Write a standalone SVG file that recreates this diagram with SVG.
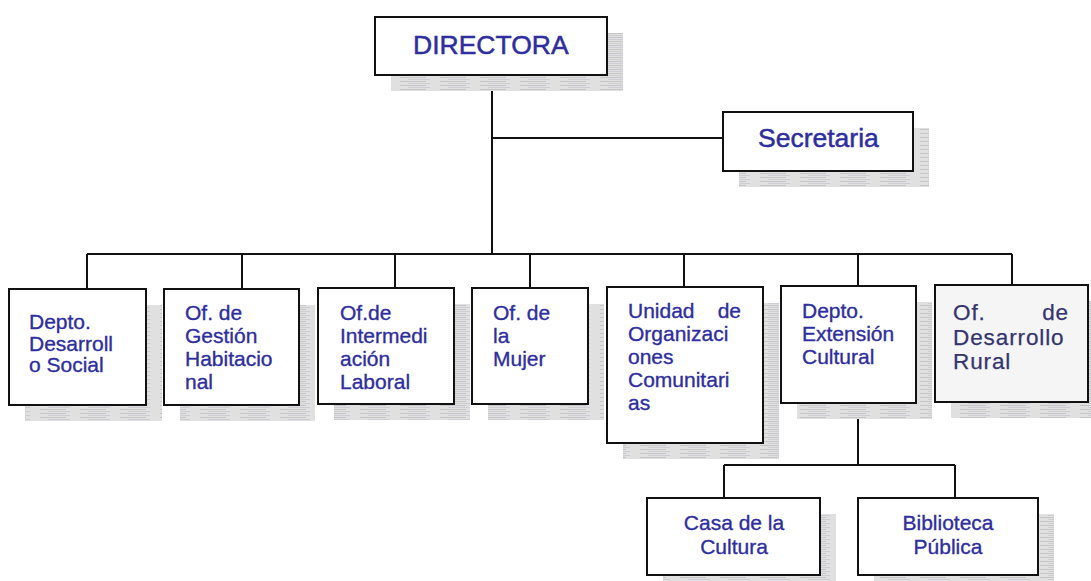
<svg xmlns="http://www.w3.org/2000/svg" width="1091" height="581" viewBox="0 0 1091 581">
<defs>
<pattern id="scan" width="40" height="4" patternUnits="userSpaceOnUse">
<rect width="40" height="4" fill="#e0e0e0"/>
<rect x="0" y="1" width="26" height="1" fill="#c6c6c6"/>
<rect x="8" y="3" width="22" height="1" fill="#cfccd4"/>
</pattern>
</defs>
<style>
.box{fill:#ffffff;stroke:#111111;stroke-width:2}
.shadow{fill:url(#scan)}
.t{font-family:"Liberation Sans",Arial,sans-serif;fill:#2e2e9e;stroke:#2e2e9e;stroke-width:0.35;font-size:21px}
.big{font-size:26.5px;stroke-width:0.5}
.rural{fill:#34346e;stroke:#34346e;stroke-width:0.25;font-size:22.5px;letter-spacing:0.9px}
.c{text-anchor:middle}
.conn{stroke:#111111;stroke-width:2;fill:none}
</style>
<rect width="1091" height="581" fill="#ffffff"/>
<g id="connectors">
<path class="conn" d="M492 75V254M492 138H723"/>
<path class="conn" d="M87 254H1012M87 254V289M242 254V289M395 254V288M530 254V288M684 254V287M858 254V286M1012 254V285"/>
<path class="conn" d="M858 403V465M724 465H955M724 465V498M955 465V498"/>
</g>
<g id="directora">
<rect class="shadow" x="391" y="33" width="232" height="58"/>
<rect class="box" x="375" y="17" width="232" height="58"/>
<text class="t big" x="413" y="54">DIRECTORA</text>
</g>
<g id="secretaria">
<rect class="shadow" x="739" y="128" width="190" height="59"/>
<rect class="box" x="723" y="112" width="190" height="59"/>
<text class="t big" x="758" y="147">Secretaria</text>
</g>
<g id="depto-desarrollo-social">
<rect class="shadow" x="25" y="305" width="137" height="116"/>
<rect class="box" x="9" y="289" width="137" height="116"/>
<text class="t"><tspan x="29" y="329">Depto.</tspan><tspan x="29" y="351">Desarroll</tspan><tspan x="29" y="372">o Social</tspan></text>
</g>
<g id="of-gestion-habitacional">
<rect class="shadow" x="180" y="305" width="135" height="116"/>
<rect class="box" x="164" y="289" width="135" height="116"/>
<text class="t"><tspan x="185" y="320">Of. de</tspan><tspan x="185" y="343">Gestión</tspan><tspan x="185" y="366">Habitacio</tspan><tspan x="185" y="389">nal</tspan></text>
</g>
<g id="of-intermediacion-laboral">
<rect class="shadow" x="334" y="304" width="136" height="116"/>
<rect class="box" x="318" y="288" width="136" height="116"/>
<text class="t"><tspan x="340" y="320">Of.de</tspan><tspan x="340" y="343">Intermedi</tspan><tspan x="340" y="366">ación</tspan><tspan x="340" y="389">Laboral</tspan></text>
</g>
<g id="of-mujer">
<rect class="shadow" x="488" y="304" width="116" height="116"/>
<rect class="box" x="472" y="288" width="116" height="116"/>
<text class="t"><tspan x="493" y="320">Of. de</tspan><tspan x="493" y="343">la</tspan><tspan x="493" y="366">Mujer</tspan></text>
</g>
<g id="unidad-organizaciones">
<rect class="shadow" x="623" y="303" width="156" height="156"/>
<rect class="box" x="607" y="287" width="156" height="156"/>
<text class="t"><tspan x="628" y="318">Unidad</tspan><tspan x="741" y="318" text-anchor="end">de</tspan><tspan x="628" y="341">Organizaci</tspan><tspan x="628" y="364">ones</tspan><tspan x="628" y="387">Comunitari</tspan><tspan x="628" y="410">as</tspan></text>
</g>
<g id="depto-extension-cultural">
<rect class="shadow" x="797" y="302" width="135" height="117"/>
<rect class="box" x="781" y="286" width="135" height="117"/>
<text class="t"><tspan x="802" y="318">Depto.</tspan><tspan x="802" y="341">Extensión</tspan><tspan x="802" y="364">Cultural</tspan></text>
</g>
<g id="of-desarrollo-rural">
<rect class="shadow" x="951" y="301" width="140" height="117"/>
<rect class="box" x="935" y="285" width="153" height="117" style="fill:#f5f5f5"/>
<text class="t rural"><tspan x="953" y="320">Of.</tspan><tspan x="1069" y="320" text-anchor="end">de</tspan><tspan x="953" y="344.5">Desarrollo</tspan><tspan x="953" y="369">Rural</tspan></text>
</g>
<g id="casa-cultura">
<rect class="shadow" x="663" y="514" width="173" height="67"/>
<rect class="box" x="647" y="498" width="173" height="77"/>
<text class="t c"><tspan x="734" y="530">Casa de la</tspan><tspan x="734" y="554">Cultura</tspan></text>
</g>
<g id="biblioteca-publica">
<rect class="shadow" x="874" y="514" width="180" height="67"/>
<rect class="box" x="858" y="498" width="180" height="77"/>
<text class="t c"><tspan x="948" y="530">Biblioteca</tspan><tspan x="948" y="554">Pública</tspan></text>
</g>
</svg>
